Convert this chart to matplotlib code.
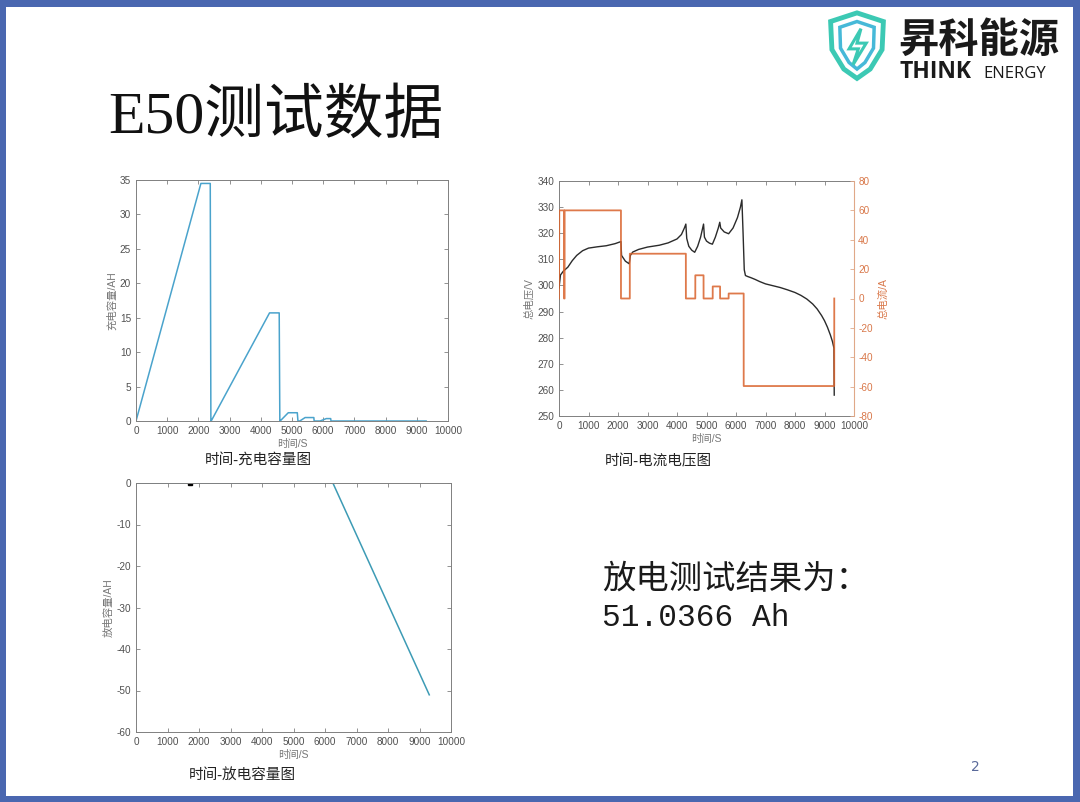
import numpy as np
import matplotlib
matplotlib.use("Agg")
import matplotlib.pyplot as plt
from matplotlib.patches import Rectangle, Polygon

plt.rcParams['font.family'] = ['Liberation Sans', 'Noto Sans CJK SC']
plt.rcParams['axes.unicode_minus'] = False

W, H = 1080, 802

# ---- data ----
charge_t = [0, 2080, 2380, 2400, 2410, 4280, 4590, 4610, 4620, 4880, 5170, 5190,
            5250, 5420, 5700, 5710, 5900, 6100, 6240, 6250, 9300]
charge_ah = [0, 34.5, 34.5, 0, 0, 15.7, 15.7, 0, 0, 1.2, 1.2, 0,
             0, 0.5, 0.5, 0, 0, 0.35, 0.35, 0, 0]

volt_t = [0, 50, 150, 200, 300, 450, 600, 800, 1000, 1300, 1600, 1900, 2100,
          2120, 2250, 2380, 2420, 2500, 2700, 3000, 3400, 3700, 4000, 4150, 4250,
          4300, 4330, 4400, 4500, 4600, 4700, 4800, 4900, 4930, 5000, 5100, 5200,
          5300, 5400, 5450, 5480, 5600, 5750, 5900, 6050, 6150, 6200, 6240, 6280,
          6320, 6400, 6500, 6650, 6800, 7000, 7250, 7500, 7750, 8000, 8200, 8400,
          8600, 8750, 8900, 9000, 9100, 9200, 9270, 9320, 9330]
volt_v = [299, 304, 305.5, 306, 307, 309.5, 311.5, 313.3, 314.3, 314.8, 315.2, 316, 316.8,
          311.5, 309.3, 308.3, 311.5, 312.8, 313.8, 314.7, 315.4, 316.3, 317.8, 319.5, 322,
          323.5, 318, 315, 313.5, 312.7, 315, 318.5, 323.5, 318.5, 317, 316.2, 315.8,
          318.5, 322, 324.2, 322, 320.5, 319.8, 322, 326, 330, 332.8, 320, 306,
          303.8, 303.4, 303, 302.3, 301.5, 300.6, 299.9, 299.2, 298.3, 297.3, 296.2, 294.8,
          292.9, 291, 288.5, 286.5, 284, 281, 278.5, 276, 258]

cur_t = [0, 10, 170, 171, 190, 191, 2100, 2101, 2400, 2401, 4300, 4301, 4620, 4621,
         4900, 4901, 5210, 5211, 5460, 5461, 5750, 5751, 6260, 6261, 9330, 9331]
cur_a = [0, 60, 60, 0, 0, 60, 60, 0, 0, 30.5, 30.5, 0, 0, 15.8,
         15.8, 0, 0, 8.2, 8.2, 0, 0, 3.4, 3.4, -59.6, -59.6, 0]

dis_t = [0, 6250, 9310]
dis_ah = [0, 0, -51.04]
marker_t = [1720]
marker_ah = [0]

xticks = np.arange(0, 10001, 1000)


def fx(x):
    return x / W


def fy(y):
    return 1 - y / H


def box(left, top, right, bottom):
    return [fx(left), fy(bottom), (right - left) / W, (bottom - top) / H]


fig = plt.figure(figsize=(W / 100, H / 100), dpi=100)
fig.patch.set_facecolor('#4a67b0')
fig.patches.append(Rectangle((fx(6), fy(796)), (1073 - 6) / W, (796 - 7) / H,
                             transform=fig.transFigure, facecolor='white',
                             edgecolor='none', zorder=-10))

tick_col = '#505050'
spine_col = '#808080'
lab_col = '#777777'
tsize = 7.2


def style(ax, right=True):
    ax.set_facecolor('none')
    for s in ax.spines.values():
        s.set_color(spine_col)
        s.set_linewidth(0.7)
    ax.tick_params(direction='in', length=3, width=0.6, colors=spine_col,
                   labelcolor=tick_col, labelsize=tsize, top=True, right=right, pad=3.5)
    ax.set_xticks(xticks)
    ax.set_xlim(0, 10000)


# ---- chart 1: charge capacity ----
ax1 = fig.add_axes(box(136, 180, 448, 421))
ax1.plot(charge_t, charge_ah, color='#4aa3cc', lw=1.1)
style(ax1)
ax1.set_ylim(0, 35)
ax1.set_yticks(np.arange(0, 36, 5))
ax1.set_xlabel('时间/S', fontsize=7.5, color=lab_col, labelpad=2)
ax1.set_ylabel('充电容量/AH', fontsize=7.5, color=lab_col, labelpad=2)

# ---- chart 2: voltage / current ----
ax2 = fig.add_axes(box(559, 181, 854, 416))
ax2.plot(volt_t, volt_v, color='#2b2b2b', lw=1.0, zorder=3)
style(ax2, right=False)
ax2.set_ylim(250, 340)
ax2.set_yticks(np.arange(250, 341, 10))
ax2.set_xlabel('时间/S', fontsize=7.5, color=lab_col, labelpad=2)
ax2.set_ylabel('总电压/V', fontsize=7.5, color=lab_col, labelpad=2)
ax2.spines['right'].set_visible(False)

ax2b = ax2.twinx()
ax2b.set_facecolor('none')
ax2b.plot(cur_t, cur_a, color='#d9622b', lw=1.3, alpha=0.85, zorder=2)
ax2b.set_ylim(-80, 80)
ax2b.set_yticks(np.arange(-80, 81, 20))
for s in ax2b.spines.values():
    s.set_visible(False)
ax2b.spines['right'].set_visible(True)
ax2b.spines['right'].set_color('#e0a888')
ax2b.spines['right'].set_linewidth(0.8)
ax2b.tick_params(direction='in', length=3, width=0.6, colors='#e0a888',
                 labelcolor='#d9784a', labelsize=tsize, pad=3)
ax2b.set_ylabel('总电流/A', fontsize=7.5, color='#d9784a', labelpad=4)

# ---- chart 3: discharge capacity ----
ax3 = fig.add_axes(box(136, 483, 451, 732))
ax3.plot(dis_t, dis_ah, color='#3d9bb5', lw=1.1)
ax3.plot(marker_t, marker_ah, 's', color='black', ms=2.5)
style(ax3)
ax3.set_ylim(-60, 0)
ax3.set_yticks(np.arange(-60, 1, 10))
ax3.set_xlabel('时间/S', fontsize=7.5, color=lab_col, labelpad=2)
ax3.set_ylabel('放电容量/AH', fontsize=7.5, color=lab_col, labelpad=2)

# ---- slide texts ----
fig.text(fx(108), fy(133), 'E50测试数据', fontsize=43, color='#111111',
         family=['Liberation Serif', 'Noto Sans CJK SC'], va='baseline')

cap_font = ['Liberation Serif', 'Noto Sans CJK SC']
fig.text(fx(258), fy(461), '时间-充电容量图', fontsize=10.5, color='#222222',
         family=cap_font, ha='center', va='center')
fig.text(fx(658), fy(461), '时间-电流电压图', fontsize=10.5, color='#222222',
         family=cap_font, ha='center', va='center')
fig.text(fx(242), fy(775), '时间-放电容量图', fontsize=10.5, color='#222222',
         family=cap_font, ha='center', va='center')

mono = ['Liberation Mono', 'Noto Sans CJK SC']
fig.text(fx(602), fy(589), '放电测试结果为：', fontsize=24, color='#1a1a1a',
         family=mono, va='baseline')
fig.text(fx(602), fy(626), '51.0366 Ah', fontsize=22.5, color='#1a1a1a',
         family=mono, va='baseline')

fig.text(fx(975), fy(767), '2', fontsize=10, color='#5a6a9a',
         ha='center', va='center', family=['DejaVu Sans'])

# ---- logo ----
lg = fig.add_axes(box(824, 10, 890, 82))
lg.set_xlim(0, 100)
lg.set_ylim(0, 100)
lg.axis('off')
shield = [(10, 84), (50, 96), (90, 84), (88, 45), (70, 18), (50, 5),
          (30, 18), (12, 45)]
lg.add_patch(Polygon(shield, closed=True, fill=False, edgecolor='#3cc9b4', lw=3.5))
inner = [(24, 76), (50, 84), (76, 76), (75, 47), (62, 27), (50, 18),
         (38, 27), (25, 47)]
lg.add_patch(Polygon(inner, closed=True, fill=False, edgecolor='#46b9d8', lw=2.5))
bolt = [(56, 74), (38, 46), (52, 46), (44, 24), (64, 54), (50, 54)]
lg.add_patch(Polygon(bolt, closed=True, fill=False, edgecolor='#3cc9b4', lw=2.2))

fig.text(fx(898), fy(52), '昇科能源', fontsize=29, fontweight='bold',
         color='#1a1a1a', family=['Noto Sans CJK SC'], va='baseline')
fig.text(fx(900), fy(78), 'THINK', fontsize=16.5, fontweight='bold',
         color='#1a1a1a', family=['Open Sans'], va='baseline')
fig.text(fx(983), fy(78), 'ENERGY', fontsize=12, color='#1a1a1a',
         family=['Open Sans'], va='baseline')

fig.savefig('out.png', dpi=100)
